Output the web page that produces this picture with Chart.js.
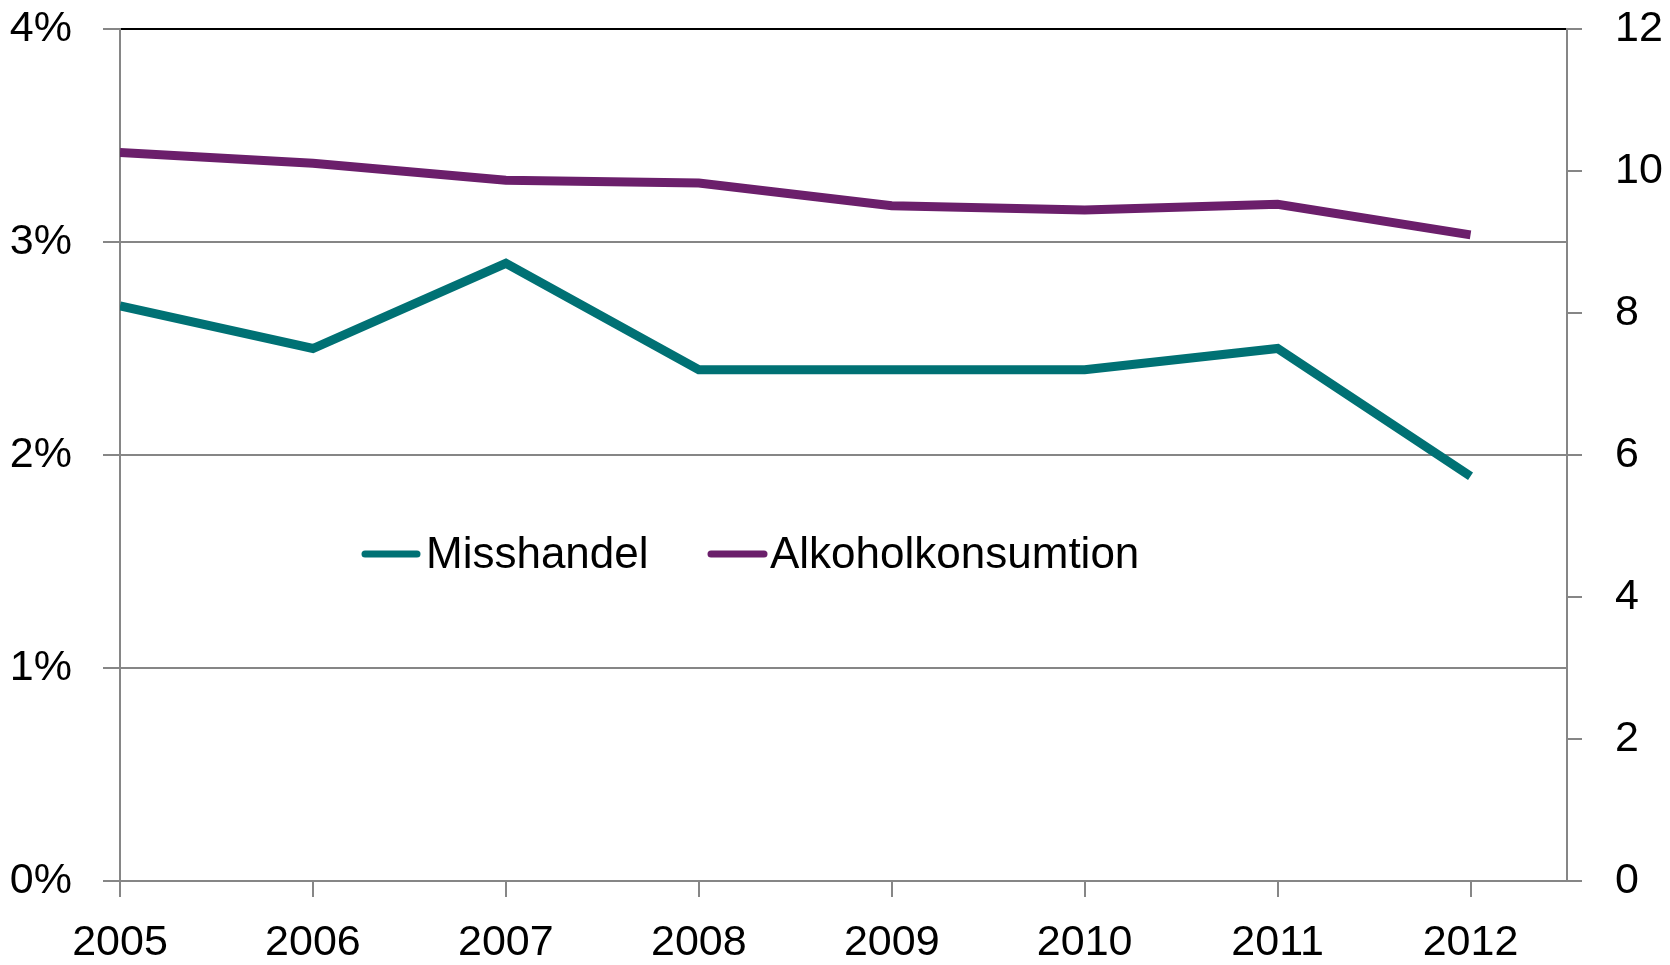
<!DOCTYPE html>
<html>
<head>
<meta charset="utf-8">
<script src="https://cdn.jsdelivr.net/npm/chart.js@4"></script>
<style>
	html, body { margin: 0; padding: 0; background: #fff; }
	#wrap { width: 1670px; height: 965px; }
</style>
</head>
<body>
<div id="wrap"><canvas id="main_chart" width="1670" height="965"></canvas></div>
<script>
// data
const years = [2005, 2006, 2007, 2008, 2009, 2010, 2011, 2012]
const misshandel = [2.7, 2.5, 2.9, 2.4, 2.4, 2.4, 2.5, 1.9]
const alkohol = [10.26, 10.11, 9.87, 9.83, 9.51, 9.45, 9.53, 9.1]
const seriesNames = ['Misshandel', 'Alkoholkonsumtion']
const leftTicks = [0, 1, 2, 3, 4]
const rightTicks = [0, 2, 4, 6, 8, 10, 12]

const teal = '#007174'
const purple = '#6b1f6b'
const gray = '#868686'
const fontFamily = "'Liberation Sans', Arial, sans-serif"
const font = { family: fontFamily, size: 43 }

// fixed scale sizes, no extra padding for overhanging labels
function fixSize(prop, size) {
	return scale => {
		scale[prop] = size
		scale.paddingTop = 0
		scale.paddingBottom = 0
		scale.paddingLeft = 0
		scale.paddingRight = 0
	}
}

// legend sits inside the plot, so draw it by hand
const innerLegend = {
	id: 'innerLegend',
	afterDraw(chart) {
		const ctx = chart.ctx
		const y = 554
		const items = [
			{ x1: 365, x2: 417, tx: 426, color: teal, text: seriesNames[0] },
			{ x1: 711, x2: 764, tx: 770, color: purple, text: seriesNames[1] },
		]
		ctx.save()
		ctx.font = `44px ${fontFamily}`
		ctx.textBaseline = 'alphabetic'
		ctx.fillStyle = '#000'
		ctx.lineCap = 'round'
		ctx.lineWidth = 7
		items.forEach(it => {
			ctx.strokeStyle = it.color
			ctx.beginPath()
			ctx.moveTo(it.x1, y)
			ctx.lineTo(it.x2, y)
			ctx.stroke()
			ctx.fillText(it.text, it.tx, 568)
		})
		ctx.restore()
	},
}

new Chart(document.getElementById('main_chart'), {
	type: 'line',
	data: {
		datasets: [
			{
				label: seriesNames[0],
				data: years.map((yr, i) => ({ x: yr, y: misshandel[i] })),
				borderColor: teal,
				borderWidth: 9,
				pointRadius: 0,
				yAxisID: 'y',
			},
			{
				label: seriesNames[1],
				data: years.map((yr, i) => ({ x: yr, y: alkohol[i] })),
				borderColor: purple,
				borderWidth: 9,
				pointRadius: 0,
				yAxisID: 'y2',
			},
		],
	},
	options: {
		responsive: false,
		animation: false,
		elements: { line: { tension: 0, borderCapStyle: 'butt', borderJoinStyle: 'miter' } },
		layout: { padding: { top: 29, left: 0, right: 0, bottom: 0 } },
		plugins: { legend: { display: false }, tooltip: { enabled: false } },
		scales: {
			x: {
				type: 'linear',
				min: 2005,
				max: 2012.5,
				afterBuildTicks: scale => { scale.ticks = years.map(v => ({ value: v })) },
				afterFit: fixSize('height', 84),
				ticks: { font, color: '#000', padding: 20, maxRotation: 0, callback: v => String(v) },
				grid: { drawOnChartArea: false, tickLength: 16, tickColor: gray, lineWidth: 2 },
				border: { color: gray, width: 2 },
			},
			y: {
				position: 'left',
				min: 0,
				max: 4,
				afterBuildTicks: scale => { scale.ticks = leftTicks.map(v => ({ value: v })) },
				afterFit: fixSize('width', 120),
				ticks: { font, color: '#000', padding: 31, callback: v => v + '%' },
				grid: {
					tickLength: 17,
					tickColor: gray,
					lineWidth: 2,
					color: c => (c.tick && c.tick.value === 4 ? '#000' : gray),
				},
				border: { color: gray, width: 2 },
			},
			y2: {
				position: 'right',
				min: 0,
				max: 12,
				afterBuildTicks: scale => { scale.ticks = rightTicks.map(v => ({ value: v })) },
				afterFit: fixSize('width', 103),
				ticks: { font, color: '#000', padding: 33 },
				grid: { drawOnChartArea: false, tickLength: 15, tickColor: gray, lineWidth: 2 },
				border: { color: gray, width: 2 },
			},
		},
	},
	plugins: [innerLegend],
})
</script>
</body>
</html>
